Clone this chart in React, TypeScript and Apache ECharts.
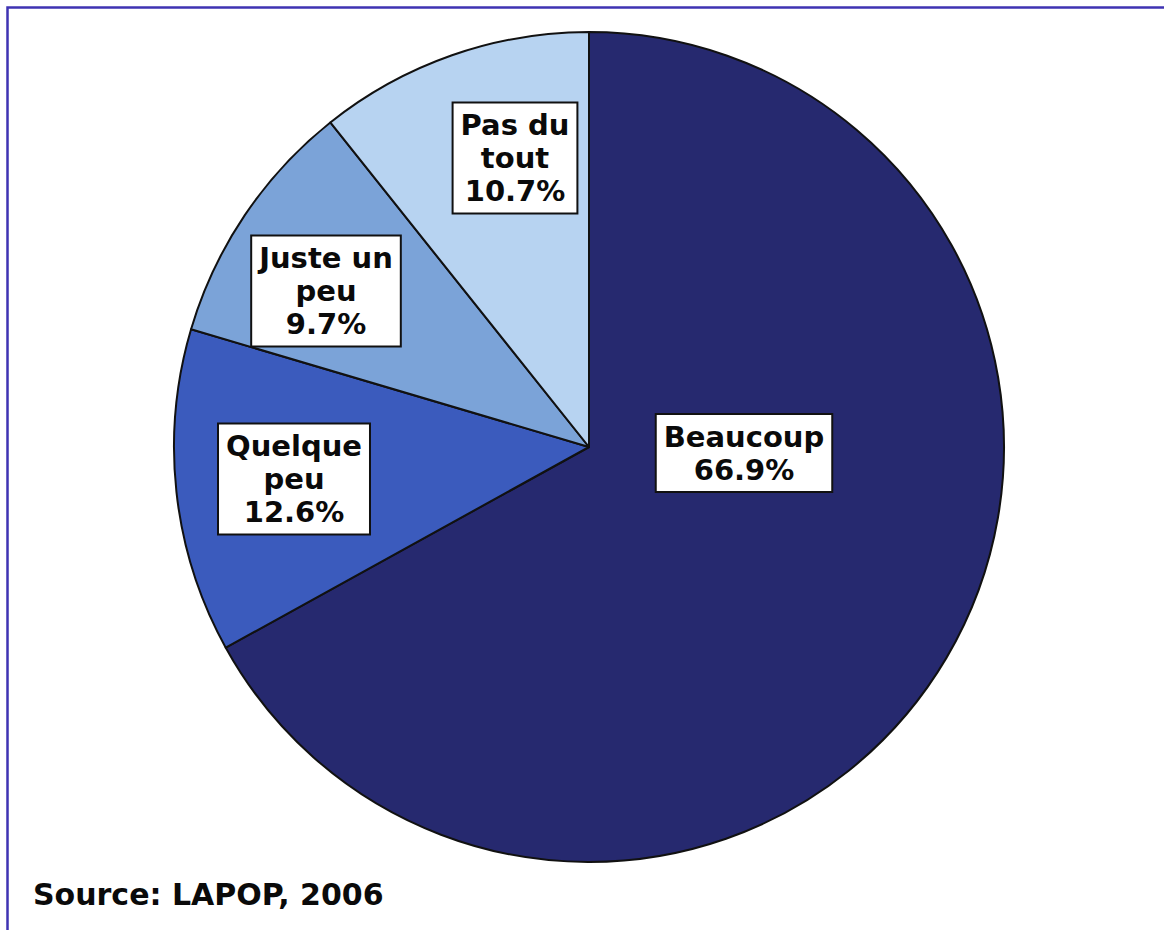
import React, { useEffect, useRef } from "react";
import * as echarts from "echarts";

const categories = ["Beaucoup", "Quelque peu", "Juste un peu", "Pas du tout"];
const labelLines = ["Beaucoup", "Quelque\npeu", "Juste un\npeu", "Pas du\ntout"];
const values = [66.9, 12.6, 9.7, 10.7];
const colors = ["#26296F", "#3B5BBD", "#7BA3D8", "#B7D3F1"];
const labelCenters = [
  [744, 453],
  [294, 479],
  [326, 291],
  [515, 158],
];
const sourceText = "Source: LAPOP, 2006";

export default function App() {
  const ref = useRef<HTMLDivElement>(null);
  useEffect(() => {
    document.body.style.margin = "0";
    const chart = echarts.init(ref.current!, null, { renderer: "svg" });
    chart.setOption({
      animation: false,
      backgroundColor: "#ffffff",
      graphic: [
        {
          type: "polyline",
          shape: { points: [[7.5, 930], [7.5, 7.5], [1164, 7.5]] },
          style: { stroke: "#3F33B3", lineWidth: 2.5, fill: null },
        },
        {
          type: "text",
          left: 33,
          top: 879,
          style: {
            text: sourceText,
            font: "bold 30px 'DejaVu Sans'",
            fill: "#0a0a0a",
          },
        },
      ],
      series: [
        {
          type: "pie",
          center: [589, 447],
          radius: 415,
          startAngle: 90,
          clockwise: true,
          avoidLabelOverlap: false,
          itemStyle: { borderColor: "#111111", borderWidth: 2 },
          label: {
            show: true,
            position: "inside",
            align: "center",
            verticalAlign: "middle",
            fontFamily: "DejaVu Sans",
            fontWeight: "bold",
            fontSize: 29,
            lineHeight: 33,
            color: "#0a0a0a",
            backgroundColor: "#ffffff",
            borderColor: "#111111",
            borderWidth: 2,
            padding: [6, 7, 4, 7],
            formatter: (p: any) => `${labelLines[p.dataIndex]}\n${p.value}%`,
          },
          labelLine: { show: false },
          labelLayout: (p: any) => ({
            x: labelCenters[p.dataIndex][0],
            y: labelCenters[p.dataIndex][1],
          }),
          emphasis: { disabled: true },
          data: categories.map((name, i) => ({
            name,
            value: values[i],
            itemStyle: { color: colors[i] },
          })),
        },
      ],
    });
    return () => chart.dispose();
  }, []);
  return (
    <div
      ref={ref}
      style={{ position: "absolute", left: 0, top: 0, width: 1164, height: 930 }}
    />
  );
}
